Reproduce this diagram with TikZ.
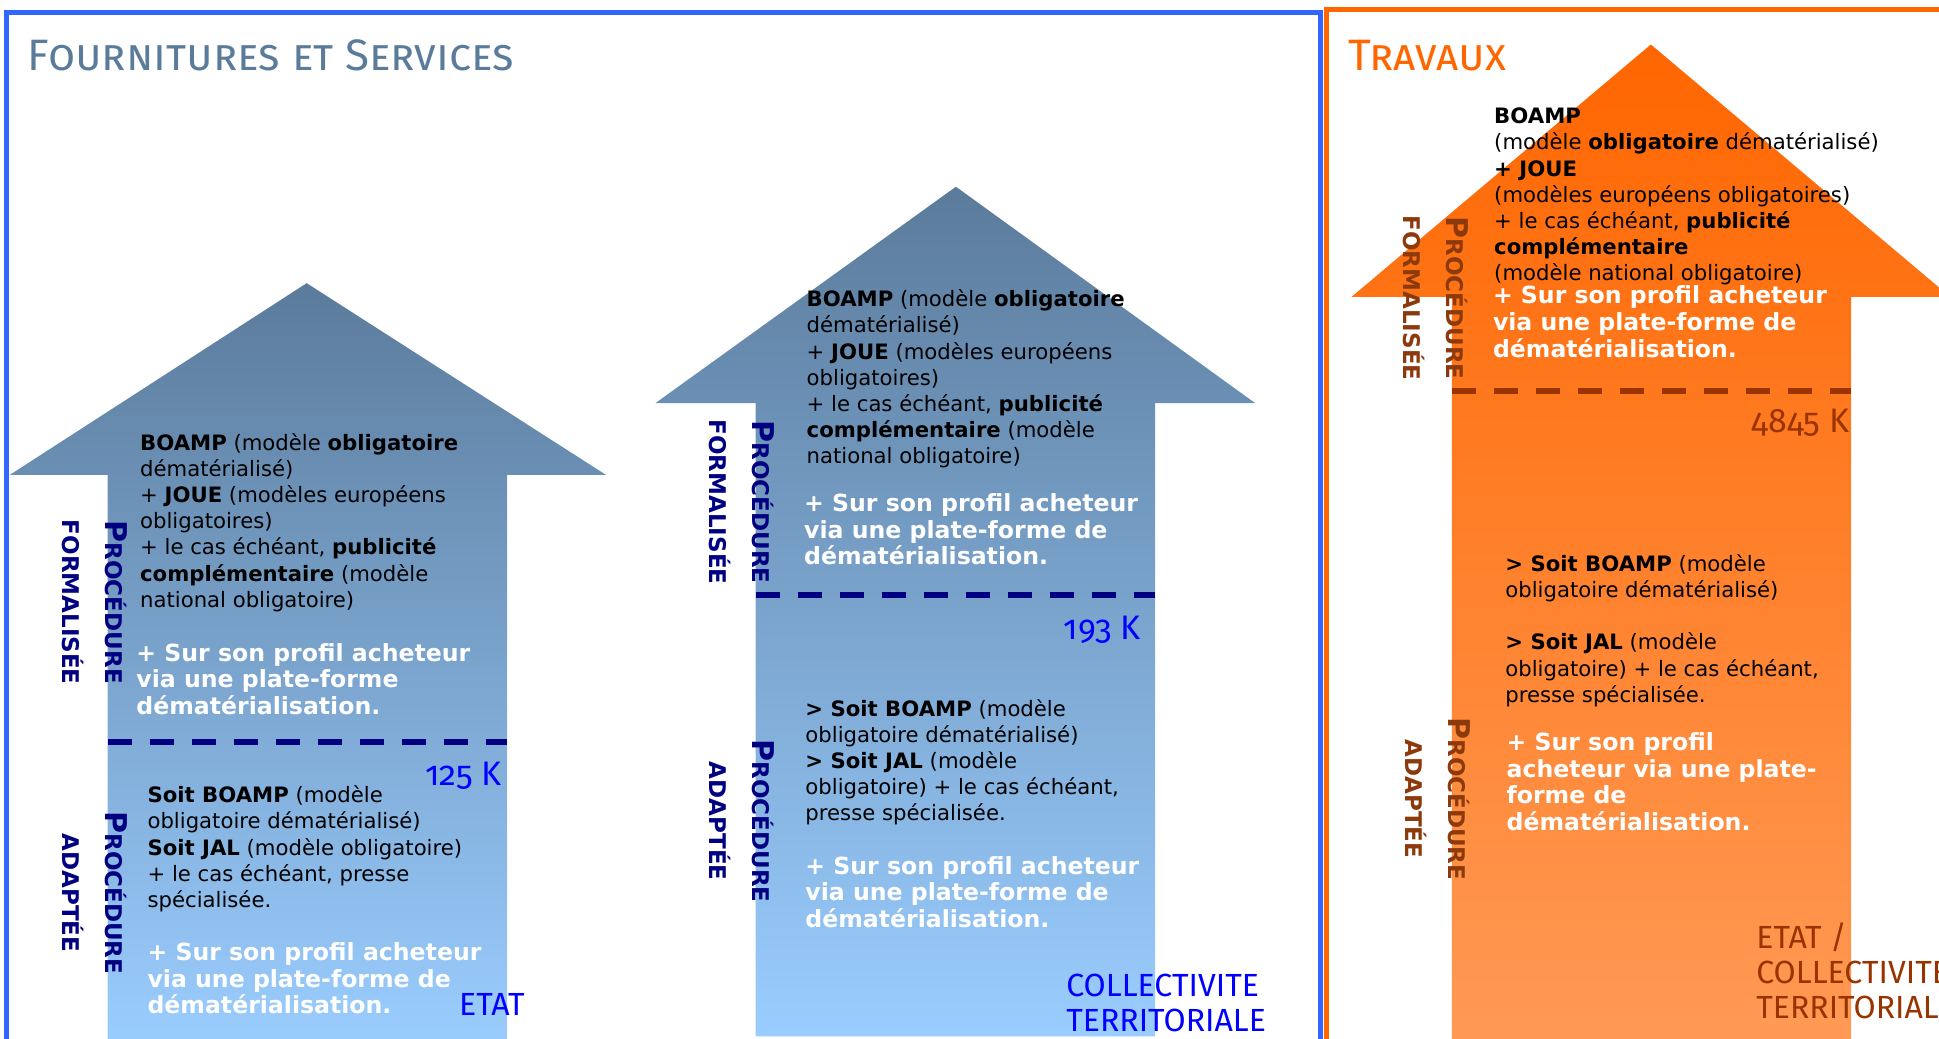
\documentclass[tikz,border=0pt]{standalone}
\usepackage{fontspec}
\setmainfont{DejaVu Sans}
\newfontfamily\titlefont[Numbers=OldStyle]{Fira Sans}
\usetikzlibrary{positioning}
\definecolor{slate}{HTML}{5B7B9B}
\definecolor{skyblue}{HTML}{9ACDFF}
\definecolor{frameblue}{HTML}{3366FF}
\definecolor{travorange}{HTML}{FF6600}
\definecolor{lightorange}{HTML}{FF9A55}
\definecolor{navy}{HTML}{000080}
\definecolor{labelblue}{HTML}{0000FF}
\definecolor{darkbrown}{HTML}{993300}
\definecolor{procbrown}{HTML}{8C3A0C}
\newcommand{\Pbig}{{\fontsize{15}{21.5}\selectfont P}}

\begin{document}
\begin{tikzpicture}[x=0.6183pt,y=-0.6183pt,
  body/.style={inner sep=0pt,anchor=north west,align=left,
    font=\fontsize{10.6}{13.1}\selectfont},
  webtxt/.style={inner sep=0pt,anchor=north west,align=left,text=white,
    font=\bfseries\fontsize{11.8}{13.3}\selectfont},
  proc/.style={inner sep=0pt,rotate=-90,align=center,
    font=\bfseries\fontsize{11.5}{21.5}\selectfont},
  seuil/.style={line width=3pt,dash pattern=on 12pt off 9pt},
  kval/.style={inner sep=0pt,anchor=east,font=\titlefont\fontsize{17}{17}\selectfont},
  acteur/.style={inner sep=0pt,anchor=west,align=left,
    font=\titlefont\fontsize{16}{17.3}\selectfont}]
  \useasboundingbox (0,0) rectangle (1568,840);

  % frames and titles
  \draw[frameblue,line width=2.5pt] (5,10) rectangle (1068,870);
  \draw[travorange,line width=2.5pt] (1073,8) rectangle (1620,870);
  \node[inner sep=0pt,anchor=base west,text=slate,font=\titlefont\fontsize{22}{22}\selectfont]
    (fstitle) at (22,57) {\textsc{Fournitures et Services}};
  \node[inner sep=0pt,anchor=base west,text=travorange,font=\titlefont\fontsize{22}{22}\selectfont]
    (trtitle) at (1090,57) {\textsc{Travaux}};

  % arrows
  \shade[top color=slate,bottom color=skyblue]
    (87,845) -- (87,384) -- (8,384) -- (248,229) -- (490,384) -- (410,384) -- (410,845) -- cycle;
  \shade[top color=slate,bottom color=skyblue]
    (611,838) -- (611,326) -- (530,326) -- (773,151) -- (1015,326) -- (934,326) -- (934,838) -- cycle;
  \shade[top color=travorange,bottom color=lightorange]
    (1174,845) -- (1174,240) -- (1093,240) -- (1335,36) -- (1577,240) -- (1497,240) -- (1497,845) -- cycle;

  % thresholds
  \draw[navy,seuil] (87,600) -- (410,600);
  \draw[navy,seuil] (611,481) -- (934,481);
  \draw[darkbrown,seuil] (1174,316) -- (1497,316);
  \node[kval,text=labelblue] (k125) at (406,627) {125 K};
  \node[kval,text=labelblue] (k193) at (923,509) {193 K};
  \node[kval,text=darkbrown] (k4845) at (1496,342) {4845 K};

  % procedure labels
  \node[proc,text=navy] (pf1) at (77,487) {\Pbig ROCÉDURE\\FORMALISÉE};
  \node[proc,text=navy] (pa1) at (77,722) {\Pbig ROCÉDURE\\ADAPTÉE};
  \node[proc,text=navy] (pf2) at (600,406) {\Pbig ROCÉDURE\\FORMALISÉE};
  \node[proc,text=navy] (pa2) at (600,664) {\Pbig ROCÉDURE\\ADAPTÉE};
  \node[proc,text=procbrown] (pf3) at (1161,241) {\Pbig ROCÉDURE\\FORMALISÉE};
  \node[proc,text=procbrown] (pa3) at (1163,646) {\Pbig ROCÉDURE\\ADAPTÉE};

  % etat
  \node[body] (f1) at (113,350) {\textbf{BOAMP} (modèle \textbf{obligatoire}\\dématérialisé)\\
    + \textbf{JOUE} (modèles européens\\obligatoires)\\+ le cas échéant, \textbf{publicité}\\
    \textbf{complémentaire} (modèle\\national obligatoire)};
  \node[webtxt] (w1) at (110,520) {+ Sur son profil acheteur\\via une plate-forme\\dématérialisation.};
  \node[body] (a1) at (119,635) {\textbf{Soit BOAMP} (modèle\\obligatoire dématérialisé)\\
    \textbf{Soit JAL} (modèle obligatoire)\\+ le cas échéant, presse\\spécialisée.};
  \node[webtxt] (v1) at (119,762) {+ Sur son profil acheteur\\via une plate-forme de\\dématérialisation.};
  \node[acteur,text=labelblue] (etat) at (371,812) {ETAT};

  % collectivite
  \node[body] (f2) at (652,234) {\textbf{BOAMP} (modèle \textbf{obligatoire}\\dématérialisé)\\
    + \textbf{JOUE} (modèles européens\\obligatoires)\\+ le cas échéant, \textbf{publicité}\\
    \textbf{complémentaire} (modèle\\national obligatoire)};
  \node[webtxt] (w2) at (650,399) {+ Sur son profil acheteur\\via une plate-forme de\\dématérialisation.};
  \node[body] (a2) at (651,565) {\textbf{> Soit BOAMP} (modèle\\obligatoire dématérialisé)\\
    \textbf{> Soit JAL} (modèle\\obligatoire) + le cas échéant,\\presse spécialisée.};
  \node[webtxt] (v2) at (651,692) {+ Sur son profil acheteur\\via une plate-forme de\\dématérialisation.};
  \node[acteur,text=labelblue] (coll) at (862,811) {COLLECTIVITE\\TERRITORIALE};

  % travaux
  \node[body] (f3) at (1208,87) {\textbf{BOAMP}\\(modèle \textbf{obligatoire} dématérialisé)\\
    \textbf{+ JOUE}\\(modèles européens obligatoires)\\+ le cas échéant, \textbf{publicité}\\
    \textbf{complémentaire}\\(modèle national obligatoire)};
  \node[webtxt] (w3) at (1207,231) {+ Sur son profil acheteur\\via une plate-forme de\\dématérialisation.};
  \node[body] (a3) at (1217,448) {\textbf{> Soit BOAMP} (modèle\\obligatoire dématérialisé)\\[13.1pt]
    \textbf{> Soit JAL} (modèle\\obligatoire) + le cas échéant,\\presse spécialisée.};
  \node[webtxt] (v3) at (1218,592) {+ Sur son profil\\acheteur via une plate-\\forme de\\dématérialisation.};
  \node[acteur,text=darkbrown] (both) at (1420,785) {ETAT /\\COLLECTIVITE\\TERRITORIALE};
\end{tikzpicture}
\end{document}
